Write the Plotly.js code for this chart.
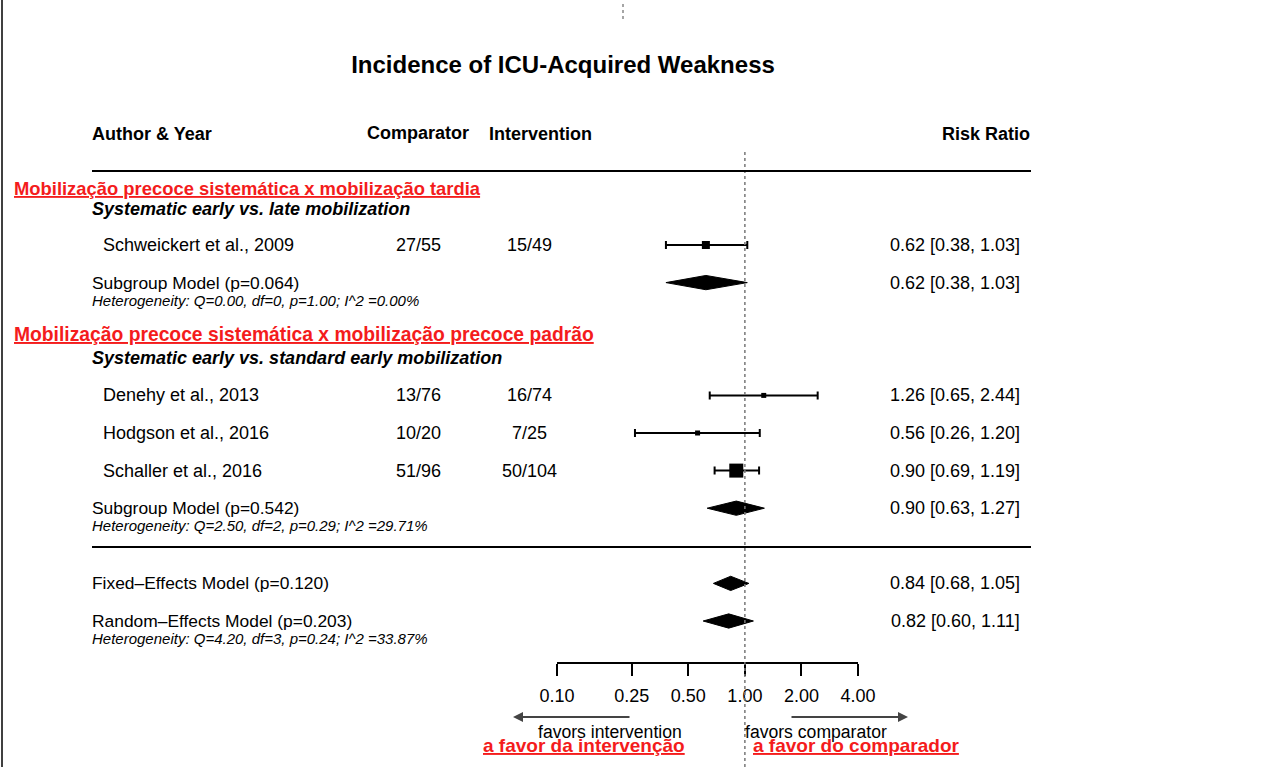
<!DOCTYPE html>
<html><head><meta charset="utf-8">
<script src="https://cdn.plot.ly/plotly-3.0.1.min.js"></script>
<style>html,body{margin:0;padding:0;background:#fff;overflow:hidden}</style>
</head><body><div id="chart" style="width:1285px;height:767px"></div>
<script>
// ---------------- data ----------------
const studyNames = ['Schweickert et al., 2009', 'Denehy et al., 2013', 'Hodgson et al., 2016', 'Schaller et al., 2016'];
const comparator = ['27/55', '13/76', '10/20', '51/96'];
const intervention = ['15/49', '16/74', '7/25', '50/104'];
const studyRR = [0.62, 1.26, 0.56, 0.90];
const studyLo = [0.38, 0.65, 0.26, 0.69];
const studyHi = [1.03, 2.44, 1.20, 1.19];
const studyWeightSize = [8, 5, 5, 14];
const studyRows = [0, 4, 5, 6];

const modelNames = ['Subgroup Model (p=0.064)', 'Subgroup Model (p=0.542)', 'Fixed\u2013Effects Model (p=0.120)', 'Random\u2013Effects Model (p=0.203)'];
const modelRR = [0.62, 0.90, 0.84, 0.82];
const modelLo = [0.38, 0.63, 0.68, 0.60];
const modelHi = [1.03, 1.27, 1.05, 1.11];
const modelRows = [1, 7, 9, 10];
const modelHet = ['Heterogeneity: Q=0.00, df=0, p=1.00; I^2 =0.00%', 'Heterogeneity: Q=2.50, df=2, p=0.29; I^2 =29.71%', '', 'Heterogeneity: Q=4.20, df=3, p=0.24; I^2 =33.87%'];

const groupLabelsPT = ['Mobiliza\u00e7\u00e3o precoce sistem\u00e1tica x mobiliza\u00e7\u00e3o tardia', 'Mobiliza\u00e7\u00e3o precoce sistem\u00e1tica x mobiliza\u00e7\u00e3o precoce padr\u00e3o'];
const groupLabelsEN = ['Systematic early vs. late mobilization', 'Systematic early vs. standard early mobilization'];
const groupRowsPT = [-1.49, 2.39];
const groupRowsEN = [-0.96, 3.0];

const tickValues = [0.10, 0.25, 0.50, 1.00, 2.00, 4.00];
const tickLabels = tickValues.map(v => v.toFixed(2));

const titleText = 'Incidence of ICU-Acquired Weakness';
const headers = ['Author & Year', 'Comparator', 'Intervention', 'Risk Ratio'];
const favorsEN = ['favors intervention', 'favors comparator'];
const favorsPT = ['a favor da interven\u00e7\u00e3o', 'a favor do comparador'];

// ---------------- geometry ----------------
const W = 1285, H = 767;
const FONT = '"Liberation Sans", Arial, Helvetica, sans-serif';
const RED = '#f41c1c';
const ROW0 = 245, ROWH = 37.6;
const yTop = -ROW0 / ROWH, yBot = (H - ROW0) / ROWH;
const px = x => x / W;
const py = y => 1 - y / H;
const DIA = 0.19;
const fmt = v => v.toFixed(2);

// ---------------- traces ----------------
const traces = [];
traces.push({
  type: 'scatter', mode: 'markers', x: studyRR, y: studyRows, opacity: 1,
  marker: {symbol: 'square', size: studyWeightSize, color: 'black', opacity: 1, line: {width: 0}},
  error_x: {type: 'data', symmetric: false,
    array: studyHi.map((h, i) => h - studyRR[i]),
    arrayminus: studyLo.map((l, i) => studyRR[i] - l),
    color: 'black', thickness: 2, width: 4},
  cliponaxis: false, hoverinfo: 'skip', showlegend: false
});
modelRR.forEach((e, i) => {
  const r = modelRows[i];
  traces.push({
    type: 'scatter', mode: 'lines', fill: 'toself', fillcolor: 'black',
    x: [modelLo[i], e, modelHi[i], e, modelLo[i]],
    y: [r, r - DIA, r, r + DIA, r],
    line: {color: 'black', width: 1}, cliponaxis: false, hoverinfo: 'skip', showlegend: false
  });
});

// ---------------- annotations ----------------
const anns = [];
function A(text, x, y, o) {
  o = o || {};
  anns.push({xref: 'paper', yref: o.yref || 'y', x: px(x), y: y, text: text, showarrow: false,
    xanchor: o.xa || 'left', yanchor: 'middle',
    font: {family: FONT, size: o.size || 18, color: o.color || 'black'}});
}
const U = t => '<span style="text-decoration:underline">' + t + '</span>';
// headers
A('<b>' + headers[0] + '</b>', 90, -2.95);
A('<b>' + headers[1] + '</b>', 418, -2.98, {xa: 'center'});
A('<b>' + headers[2] + '</b>', 540, -2.95, {xa: 'center'});
A('<b>' + headers[3] + '</b>', 1032, -2.95, {xa: 'right'});
// group labels
const ptSizes = [18.4, 19.3];
groupLabelsPT.forEach((t, i) => A('<b>' + U(t) + '</b>', 12, groupRowsPT[i], {color: RED, size: ptSizes[i]}));
groupLabelsEN.forEach((t, i) => A('<b><i>' + t + '</i></b>', 90, groupRowsEN[i]));
// studies
studyNames.forEach((t, i) => {
  const r = studyRows[i];
  A(t, 101, r);
  A(comparator[i], 418, r, {xa: 'center'});
  A(intervention[i], 529, r, {xa: 'center'});
  A(fmt(studyRR[i]) + ' [' + fmt(studyLo[i]) + ', ' + fmt(studyHi[i]) + ']', 1022, r, {xa: 'right'});
});
// models
modelNames.forEach((t, i) => {
  const r = modelRows[i];
  A(t, 90, r, {size: 17.4});
  if (modelHet[i]) A('<i>' + modelHet[i] + '</i>', 90, r + 0.47, {size: 15});
  A(fmt(modelRR[i]) + ' [' + fmt(modelLo[i]) + ', ' + fmt(modelHi[i]) + ']', 1022, r, {xa: 'right'});
});
// favors labels
A(favorsEN[0], 536, py(732), {yref: 'paper', size: 17.6});
A(favorsEN[1], 743, py(732), {yref: 'paper', size: 17.6});
A('<b>' + U(favorsPT[0]) + '</b>', 481, py(745), {yref: 'paper', color: RED, size: 19});
A('<b>' + U(favorsPT[1]) + '</b>', 751, py(745), {yref: 'paper', color: RED, size: 19});
// arrows
anns.push({xref: 'paper', yref: 'paper', x: px(513), y: py(717), ax: 118, ay: 0, text: '', showarrow: true,
  arrowhead: 2, arrowsize: 1, arrowwidth: 2, arrowcolor: '#444'});
anns.push({xref: 'paper', yref: 'paper', x: px(908), y: py(717), ax: -118, ay: 0, text: '', showarrow: true,
  arrowhead: 2, arrowsize: 1, arrowwidth: 2, arrowcolor: '#444'});

// ---------------- shapes ----------------
const shapes = [
  {type: 'line', xref: 'x', yref: 'paper', x0: 1, x1: 1, y0: 0, y1: py(150), line: {color: '#777', width: 1.5, dash: 'dot'}},
  {type: 'line', xref: 'paper', yref: 'paper', x0: px(92), x1: px(1031), y0: py(171), y1: py(171), line: {color: 'black', width: 2}},
  {type: 'line', xref: 'paper', yref: 'paper', x0: px(92), x1: px(1031), y0: py(547), y1: py(547), line: {color: 'black', width: 2}},
  {type: 'line', xref: 'paper', yref: 'paper', x0: px(2), x1: px(2), y0: 0, y1: 1, line: {color: 'black', width: 1.5}},
  {type: 'line', xref: 'paper', yref: 'paper', x0: px(623), x1: px(623), y0: py(4), y1: py(22), line: {color: '#888', width: 1.5, dash: 'dot'}}
];

const layout = {
  width: W, height: H, margin: {l: 0, r: 0, t: 0, b: 0},
  paper_bgcolor: 'white', plot_bgcolor: 'white', showlegend: false,
  title: {text: '<b>' + titleText + '</b>', font: {family: FONT, size: 24, color: 'black'},
    x: px(563), xanchor: 'center', y: py(65), yanchor: 'middle', xref: 'paper', yref: 'paper'},
  xaxis: {type: 'log', domain: [px(557), px(858)], range: [Math.log10(0.1), Math.log10(4)],
    anchor: 'free', position: py(663), side: 'bottom',
    showline: true, linecolor: 'black', linewidth: 2, ticks: 'outside', ticklen: 12, tickwidth: 2, tickcolor: 'black',
    tickvals: tickValues, ticktext: tickLabels, tickfont: {family: FONT, size: 18, color: 'black'},
    ticklabelstandoff: 4,
    showgrid: false, zeroline: false, fixedrange: true},
  yaxis: {domain: [0, 1], range: [yBot, yTop], visible: false, showgrid: false, zeroline: false, fixedrange: true},
  annotations: anns, shapes: shapes
};
Plotly.newPlot('chart', traces, layout, {displayModeBar: false, staticPlot: true});
</script></body></html>
